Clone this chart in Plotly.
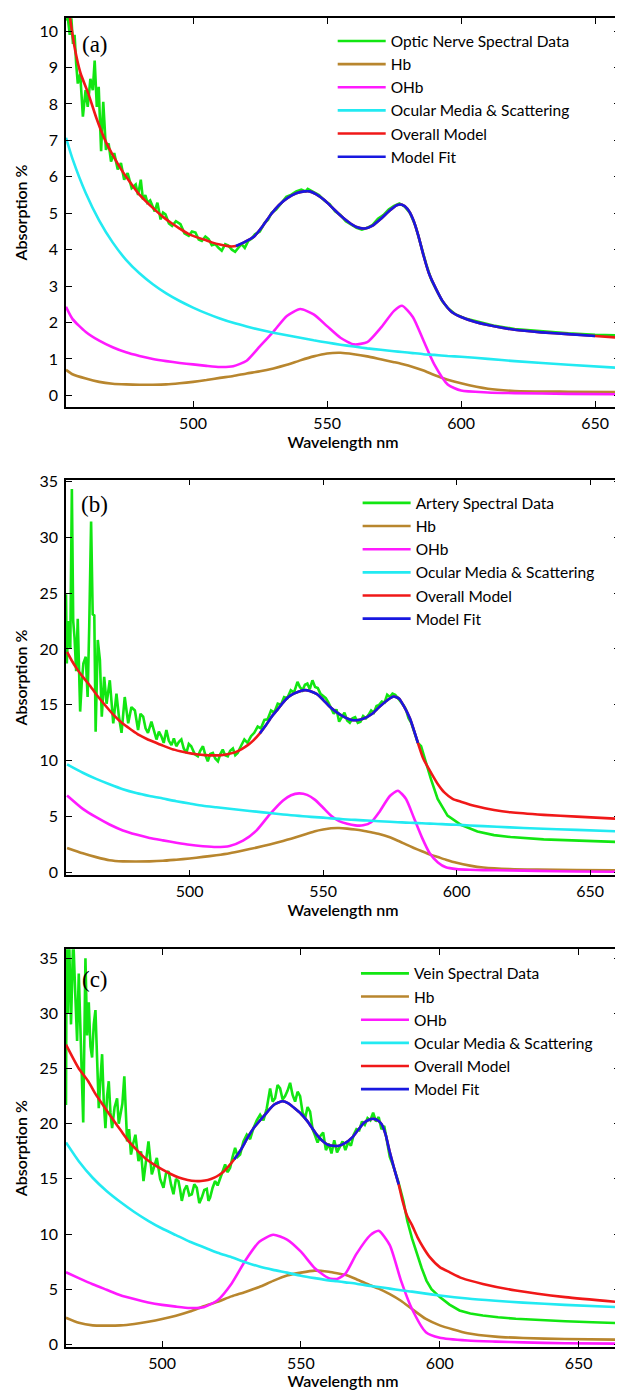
import numpy as np
import plotly.graph_objects as go

# ---------------- Panel (a): Optic nerve ----------------
A_COMP_WL = [452.6, 455, 460, 465, 470, 475, 480, 485, 490, 495, 500, 505, 510, 515, 520, 525, 530,
             535, 540, 545, 550, 555, 560, 565, 570, 575, 578, 582, 586, 590, 595, 600, 610, 620, 640, 660]
A_HB = [0.70, 0.58, 0.46, 0.37, 0.32, 0.30, 0.29, 0.29, 0.30, 0.33, 0.37, 0.42, 0.48, 0.53, 0.60, 0.66, 0.74,
        0.84, 0.96, 1.07, 1.15, 1.17, 1.13, 1.07, 0.99, 0.91, 0.86, 0.78, 0.68, 0.56, 0.43, 0.33, 0.18, 0.12, 0.10, 0.09]
A_OHB = [2.43, 2.10, 1.74, 1.50, 1.32, 1.18, 1.08, 1.00, 0.94, 0.89, 0.85, 0.81, 0.78, 0.80, 0.95, 1.35, 1.75,
         2.18, 2.37, 2.22, 1.90, 1.58, 1.40, 1.46, 1.85, 2.32, 2.46, 2.15, 1.50, 0.85, 0.30, 0.13, 0.08, 0.06, 0.04, 0.03]
A_OCU = [7.07, 6.50, 5.55, 4.80, 4.20, 3.72, 3.35, 3.05, 2.80, 2.59, 2.41, 2.25, 2.11, 1.99, 1.89, 1.80, 1.72,
         1.65, 1.58, 1.51, 1.45, 1.39, 1.34, 1.29, 1.25, 1.21, 1.19, 1.16, 1.13, 1.11, 1.08, 1.06, 1.00, 0.94, 0.84, 0.75]
A_MODEL_WL = [452.6, 454.1, 456, 458, 460.9, 464, 467.1, 470, 473.3, 476.5, 479.5, 482.5, 485.7, 488.8, 491.9,
              495, 498.1, 501, 504.3, 507, 510, 513.6, 516, 519, 522.9, 526, 529.1, 532, 535.3, 538.5, 541.5,
              543.5, 546, 549, 552, 555, 558, 561, 564, 567, 570, 573, 576, 578, 580, 582, 584, 586, 588, 590.6,
              593, 596.5, 600, 605, 610, 620, 630, 640, 650, 660]
A_MODEL = [11.2, 10.36, 9.48, 8.85, 8.29, 7.6, 7.02, 6.6, 6.19, 5.85, 5.55, 5.32, 5.1, 4.9, 4.73,
           4.58, 4.44, 4.35, 4.27, 4.2, 4.14, 4.09, 4.1, 4.2, 4.37, 4.65, 4.97, 5.22, 5.42, 5.55, 5.6,
           5.6, 5.52, 5.36, 5.15, 4.94, 4.76, 4.62, 4.58, 4.66, 4.84, 5.05, 5.22, 5.23, 5.12, 4.85, 4.4, 3.84, 3.35, 2.93,
           2.6, 2.29, 2.15, 2.02, 1.93, 1.8, 1.73, 1.68, 1.63, 1.58]
A_FIT_RANGE = [514, 655]
A_DATA_WL = [452.6, 453.3, 454, 454.6, 455.2, 455.8, 456.4, 457, 457.9, 458.9, 459.9, 460.7, 461.7, 462.6, 463.3,
             464.1, 464.8, 465.7, 466.5, 467.5, 468.5, 469.4, 470.6, 471.9, 473.1, 474.3, 475.6, 477.1, 478.6,
             479.5, 480.5, 481.3, 482.2, 483, 484, 484.8, 485.7, 486.7, 487.9, 488.8, 489.7, 491, 492.2, 493.6,
             495.3, 496.8, 498.4, 499.6, 500.9, 502.1, 503.3, 504.6, 505.8, 507, 508.3, 509.5, 510.7, 512, 513.2,
             514.5, 515.7, 517, 518.1, 519.3, 520.6, 521.8, 523.1, 524.9, 526.8, 528, 529.3, 531, 533, 534.8,
             536.7, 538.5, 540.4, 542, 542.8, 544, 545, 547, 549, 551, 553, 555, 557, 559, 561, 563, 565, 567,
             569, 571, 573, 575, 577, 579, 581, 583, 585, 587, 589, 591, 593, 595, 598, 602, 607, 612, 620, 630,
             640, 650, 660]
A_DATA = [10.3, 10.35, 9.9, 10.35, 9.65, 9.9, 9.1, 8.56, 8.83, 7.65, 8.38, 7.92, 8.69, 8.38, 9.19,
          7.92, 8.47, 6.7, 8.06, 6.74, 6.92, 6.42, 6.65, 6.2, 6.38, 5.92, 6.1, 5.69, 5.79,
          5.5, 5.92, 5.38, 5.5, 5.29, 5.35, 5.2, 5.05, 5.29, 4.83, 5.02, 4.97, 4.72, 4.65, 4.78,
          4.7, 4.45, 4.38, 4.5, 4.47, 4.28, 4.24, 4.36, 4.29, 4.12, 4.15, 4.05, 3.97, 4.15, 4.11,
          4.0, 3.94, 4.06, 4.15, 4.05, 4.24, 4.3, 4.42, 4.5, 4.74, 4.82, 5.01, 5.1, 5.29, 5.45,
          5.51, 5.6, 5.65, 5.6, 5.67, 5.62, 5.6, 5.5, 5.35, 5.25, 5.05, 4.95, 4.78, 4.7, 4.6, 4.55, 4.6, 4.68,
          4.85, 4.95, 5.1, 5.2, 5.27, 5.18, 5.0, 4.65, 4.1, 3.6, 3.15, 2.85, 2.58, 2.4, 2.22, 2.1, 2.0, 1.92, 1.82, 1.75,
          1.7, 1.66, 1.64]

# ---------------- Panel (b): Artery ----------------
B_COMP_WL = [454.1, 460, 465, 470, 475, 480, 485, 490, 495, 500, 505, 510, 515, 520, 525, 530, 535, 538, 541,
             544, 547, 550, 553, 556, 559, 562, 565, 568, 571, 575, 578, 581, 584, 587, 590, 593, 596, 600, 605,
             610, 620, 630, 645, 661]
B_HB = [2.2, 1.72, 1.38, 1.1, 1.0, 0.99, 1.0, 1.05, 1.15, 1.26, 1.4, 1.55, 1.73, 1.97, 2.23, 2.52, 2.83, 3.03, 3.25,
        3.48, 3.7, 3.85, 3.96, 3.98, 3.93, 3.85, 3.74, 3.6, 3.45, 3.15, 2.85, 2.52, 2.2, 1.9, 1.62, 1.39, 1.15, 0.87, 0.62,
        0.45, 0.31, 0.26, 0.22, 0.19]
B_OHB = [6.9, 5.7, 4.95, 4.3, 3.77, 3.4, 3.1, 2.88, 2.67, 2.48, 2.36, 2.29, 2.38, 2.85, 3.75, 5.2, 6.45, 6.92, 7.08,
         6.95, 6.5, 5.8, 5.08, 4.6, 4.36, 4.22, 4.23, 4.5, 5.4, 6.85, 7.32, 6.6, 4.9, 3.15, 1.7, 0.9, 0.47, 0.31, 0.25,
         0.22, 0.19, 0.15, 0.1, 0.07]
B_OCU = [9.68, 8.93, 8.38, 7.9, 7.46, 7.12, 6.85, 6.62, 6.38, 6.18, 5.98, 5.84, 5.7, 5.57, 5.45, 5.32, 5.2, 5.13, 5.07,
         5.01, 4.96, 4.91, 4.85, 4.8, 4.75, 4.71, 4.67, 4.63, 4.59, 4.54, 4.5, 4.47, 4.44, 4.41, 4.38, 4.35, 4.31, 4.27, 4.21,
         4.15, 4.04, 3.94, 3.82, 3.68]
B_MODEL_WL = [454.1, 456, 458, 460, 462.4, 465, 468.6, 471.5, 474.8, 478, 481, 484, 487.2, 490, 493.4, 496.5, 499.5,
              502.5, 505.7, 509, 511.9, 514.5, 516.9, 519.5, 521.9, 524, 526.3, 528.5, 530.6, 533, 535, 537, 539, 541,
              543.3, 545, 547.7, 550, 552.2, 555, 558, 560, 562.5, 565, 568.4, 571, 574.3, 576.4, 578.5, 580.2, 582.5,
              585.5, 587.5, 590.4, 593, 595.4, 598.5, 601.6, 607.8, 614, 620.2, 632.6, 645, 661]
B_MODEL = [19.73, 18.9, 18.15, 17.5, 16.8, 15.95, 14.9, 14.1, 13.35, 12.8, 12.31, 11.95, 11.63, 11.35, 11.04, 10.85, 10.69,
           10.58, 10.5, 10.48, 10.5, 10.6, 10.75, 11.05, 11.42, 11.85, 12.45, 13.15, 13.9, 14.6, 15.2, 15.7, 16.0, 16.2,
           16.32, 16.25, 15.96, 15.45, 14.9, 14.35, 13.9, 13.7, 13.62, 13.75, 14.2, 14.8, 15.46, 15.75, 15.55, 14.9, 13.8,
           11.6, 10.2, 8.94, 7.9, 7.17, 6.6, 6.34, 5.9, 5.6, 5.39, 5.16, 5.0, 4.8]
B_FIT_RANGE = [526.3, 585.5]
B_DATA_WL = [453.7, 454.0, 454.6, 455.3, 455.9, 456.4, 456.9, 457.5, 458.1, 459.0, 459.6, 460.2, 461.1, 461.8, 462.4,
             462.7, 463.1, 463.7, 464.3, 464.8, 465.6, 466.4, 467.1, 468.0, 468.9, 470.1, 471.4, 472.6, 473.5, 474.5,
             475.7, 477.0, 478.2, 479.5, 480.7, 481.6, 482.6, 483.5, 484.4, 485.7, 486.6, 487.6, 488.5, 489.4, 490.3,
             491.3, 492.2, 493.2, 494.1, 495.0, 496.0, 496.9, 497.8, 498.8, 499.7, 500.6, 501.9, 503.1, 504.0, 505.0,
             505.9, 506.8, 507.7, 508.7, 509.6, 510.6, 511.5, 512.4, 513.3, 514.3, 515.2, 516.2, 517.1, 518.0, 519.2,
             520.5, 521.7, 523.0, 524.2, 525.5, 526.7, 528.0, 529.2, 530.5, 531.7, 533.0, 534.2, 535.4, 536.6, 537.9,
             539.1, 540.4, 541.3, 542.3, 543.2, 544.1, 545.0, 546.0, 547.0, 548.0, 549.0, 550.0, 551.0, 552.0, 553.0,
             554.0, 555.0, 556.0, 557.0, 558.0, 559.0, 560.0, 561.0, 562.0, 563.0, 564.0, 565.0, 566.0, 567.0, 568.0,
             569.0, 570.0, 571.0, 572.0, 573.0, 574.0, 575.0, 576.0, 577.0, 578.0, 579.0, 580.0, 581.0, 582.0, 583.0,
             584.0, 585.5, 586.7, 588.5, 590.4, 592.9, 596.6, 601.6, 607.8, 614.0, 620.2, 632.6, 645.0, 661.0]
B_DATA = [24.9, 18.7, 22.5, 20.0, 34.3, 22.5, 21.0, 18.0, 22.7, 14.4, 17.0, 18.7, 19.3, 15.7, 22.0,
          27.9, 31.4, 23.1, 23.0, 12.6, 20.8, 19.0, 13.95, 17.5, 15.1, 17.2, 13.35, 16.0, 14.0, 12.5,
          15.7, 13.35, 14.8, 14.5, 12.75, 14.2, 13.95, 12.9, 12.5, 13.5, 12.8, 11.9, 12.6, 12.2, 11.6,
          12.75, 11.8, 11.4, 12.0, 11.3, 11.7, 11.9, 11.1, 10.7, 11.5, 11.3, 10.6, 10.4, 10.9, 11.3,
          10.5, 9.95, 10.6, 10.7, 10.2, 9.95, 10.6, 11.0, 10.5, 10.4, 10.9, 11.1, 10.5, 10.7, 11.3,
          11.9, 11.6, 12.2, 12.5, 13.06, 12.9, 13.65, 13.7, 14.5, 14.3, 15.1, 15.0, 15.7, 15.6, 16.3,
          16.1, 17.06, 16.6, 16.3, 16.8, 16.9, 16.4, 17.2, 16.6, 16.5, 16.0, 15.8, 15.6, 15.2, 14.7,
          14.2, 14.6, 13.5, 13.9, 14.3, 13.6, 13.4, 13.8, 13.9, 13.4, 13.5, 14.0, 13.8, 14.1, 14.5,
          14.3, 14.9, 15.0, 15.3, 15.2, 15.9, 15.7, 16.0, 15.9, 15.6, 15.4, 15.0, 14.6, 13.8, 13.4,
          12.6, 11.6, 11.3, 9.8, 8.35, 6.58, 5.1, 4.27, 3.68, 3.35, 3.18, 2.97, 2.85, 2.73]

# ---------------- Panel (c): Vein ----------------
C_COMP_WL = [465.4, 470, 475, 480, 485, 490, 495, 500, 505, 510, 515, 520, 525, 530, 535, 540, 545, 550, 555, 560,
             563, 566, 570, 575, 578, 582, 586, 590, 595, 600, 610, 620, 630, 645, 665]
C_HB = [2.41, 1.95, 1.72, 1.7, 1.72, 1.85, 2.05, 2.3, 2.6, 2.97, 3.45, 3.87, 4.35, 4.75, 5.2, 5.75, 6.23, 6.5, 6.68, 6.58,
        6.45, 6.3, 5.9, 5.35, 5.05, 4.55, 3.95, 3.2, 2.3, 1.72, 1.0, 0.7, 0.57, 0.48, 0.42]
C_OHB = [6.53, 6.0, 5.45, 4.95, 4.45, 4.1, 3.8, 3.58, 3.42, 3.3, 3.37, 4.0, 5.5, 7.6, 9.3, 9.93, 9.5, 8.4, 6.9, 6.0,
         5.92, 6.4, 8.2, 9.9, 10.3, 9.0, 5.8, 3.2, 1.1, 0.6, 0.35, 0.25, 0.18, 0.1, 0.06]
C_OCU = [18.3, 16.6, 15.1, 13.9, 12.9, 12.0, 11.2, 10.5, 9.9, 9.3, 8.8, 8.3, 7.9, 7.45, 7.05, 6.75, 6.5, 6.22, 6.0, 5.8,
         5.72, 5.62, 5.5, 5.3, 5.2, 5.05, 4.9, 4.78, 4.6, 4.43, 4.15, 3.95, 3.78, 3.58, 3.37]
C_MODEL_WL = [465.4, 470, 473.4, 476, 479.4, 482, 485.3, 488, 491.3, 494, 497.3, 500, 503.3, 506, 509.2, 512, 514,
              516.5, 518.8, 520.5, 522.4, 524, 526, 528.5, 530.8, 533, 535.6, 538, 540.4, 543.4, 545.5, 547.5, 550,
              552.3, 555.6, 557.5, 559.9, 563.4, 566, 568.4, 570.5, 572.7, 574.5, 576.2, 578, 579.1, 580.5, 581.9,
              583.5, 585.2, 586.5, 588.3, 590, 592, 594, 596.4, 600, 603.6, 608, 615.5, 627.4, 645.2, 664.9]
C_MODEL = [27.16, 25.0, 23.85, 22.7, 21.44, 20.5, 19.33, 18.4, 17.52, 16.85, 16.26, 15.85, 15.42, 15.12, 14.9, 14.8, 14.81,
           14.9, 15.11, 15.35, 15.72, 16.15, 16.77, 17.7, 18.73, 19.6, 20.39, 21.1, 21.74, 22.04, 21.85, 21.44, 20.9,
           20.23, 19.03, 18.5, 18.07, 17.98, 18.25, 18.73, 19.4, 20.08, 20.35, 20.44, 20.25, 19.94, 19.0, 17.52,
           16.0, 14.5, 13.1, 11.6, 10.8, 9.7, 8.8, 7.9, 7.0, 6.53, 6.0, 5.48, 4.88, 4.28, 3.82]
C_FIT_RANGE = [526, 585.2]
C_DATA_WL = [465.4, 465.6, 466.0, 466.5, 467.2, 468.0, 468.7, 469.4, 470.0, 470.8, 471.6, 472.4, 473.0, 473.6, 474.2,
             474.8, 475.4, 476.0, 476.6, 477.2, 477.8, 478.4, 479.0, 479.6, 480.2, 480.8, 481.4, 482.0, 482.9, 483.8,
             484.4, 485.0, 485.7, 486.4, 487.4, 488.1, 488.8, 489.6, 490.4, 491.5, 492.4, 493.3, 494.2, 495.1, 496.3,
             497.2, 498.1, 499.3, 500.5, 501.4, 502.3, 503.2, 504.1, 505.0, 505.9, 506.5, 507.1, 508.0, 508.9, 509.8,
             510.7, 511.6, 512.5, 513.4, 514.3, 515.2, 516.1, 516.7, 517.3, 518.2, 519.1, 520.0, 520.9, 521.8, 522.7,
             523.6, 524.5, 525.4, 526.3, 527.2, 528.1, 529.3, 530.5, 531.7, 532.9, 534.1, 535.3, 536.5, 537.7, 538.9,
             539.8, 540.7, 541.6, 542.5, 543.4, 544.3, 545.2, 546.1, 547.0, 547.9, 548.8, 549.7, 550.6, 551.5, 552.4,
             553.3, 554.2, 555.0, 556.0, 557.0, 558.0, 559.0, 560.0, 561.0, 562.0, 563.0, 564.0, 565.0, 566.0, 567.0,
             568.0, 569.0, 570.0, 571.0, 572.0, 573.0, 574.0, 575.0, 576.0, 577.0, 578.0, 579.0, 580.0, 581.0, 582.0,
             583.5, 585.0, 586.9, 588.3, 590.0, 591.7, 593.5, 595.2, 597.0, 600.0, 603.5, 607.1, 611.0, 615.5, 621.0,
             627.4, 635.0, 645.2, 655.0, 664.9]
C_DATA = [21.7, 36.5, 30.0, 37.0, 29.0, 37.0, 32.0, 27.5, 33.6, 27.0, 20.1, 35.0, 28.0, 31.0, 27.0,
          26.0, 29.0, 30.3, 25.0, 21.4, 24.0, 26.3, 22.0, 19.6, 22.5, 23.85, 21.0, 19.6, 21.5, 22.3,
          20.0, 20.8, 21.8, 24.3, 18.4, 19.5, 17.2, 18.2, 19.0, 16.6, 17.5, 14.8, 16.5, 18.4, 15.4,
          16.2, 16.9, 15.0, 14.2, 15.5, 15.7, 14.5, 13.6, 15.0, 14.8, 14.0, 13.0, 14.0, 14.4, 13.5,
          13.6, 14.5, 14.2, 12.8, 13.3, 14.0, 14.1, 13.0, 13.3, 14.2, 14.8, 14.4, 15.1, 15.6, 16.3,
          15.6, 16.0, 17.0, 17.8, 17.0, 17.2, 18.4, 19.0, 18.6, 19.6, 20.3, 20.8, 20.3, 21.4, 23.2,
          22.0, 22.3, 23.5, 23.2, 22.2, 22.5, 23.0, 23.7, 22.6, 22.0, 22.9, 22.5, 21.0, 20.5, 21.5,
          21.1, 19.5, 19.0, 18.3, 18.9, 19.2, 17.6, 18.2, 17.3, 18.5, 17.4, 17.9, 18.4, 17.6, 18.3,
          18.0, 19.0, 19.5, 19.4, 20.2, 19.9, 20.5, 20.3, 21.0, 20.2, 20.6, 19.5, 19.8, 18.3, 17.0,
          16.0, 14.8, 13.0, 11.2, 9.6, 8.19, 6.9, 5.78, 5.0, 4.28, 3.6, 3.07, 2.8, 2.62, 2.45,
          2.32, 2.2, 2.1, 2.0, 1.92]

# ---------------- shared labels / styles ----------------
DATA_NAMES = ["Optic Nerve Spectral Data", "Artery Spectral Data", "Vein Spectral Data"]
COMP_NAMES = ["Hb", "OHb", "Ocular Media & Scattering", "Overall Model", "Model Fit"]
PANEL_TAGS = ["(a)", "(b)", "(c)"]
X_TICKS = [500, 550, 600, 650]
Y_TICKS = [list(range(0, 11)), list(range(0, 36, 5)), list(range(0, 36, 5))]
X_RANGES = [[452.6, 659.3], [453.7, 661.2], [465.4, 664.9]]
Y_RANGES = [[-0.32, 10.36], [-0.26, 35.15], [-0.24, 35.8]]
DOMAINS = [[0.7073, 1.0], [0.3548, 0.6527], [0.0, 0.2992]]
LEGEND_POS = [(0.4814, 0.9952, 0.0), (0.5264, 0.6476, 0.0), (0.5234, 0.2936, 0.0)]

C_GREEN = "#12e612"
C_BROWN = "#b8862e"
C_MAG = "#ff1aff"
C_CYAN = "#22eaf2"
C_RED = "#f01818"
C_BLUE = "#1818e0"
FONT = "Lato"

panels = [
    (A_COMP_WL, A_HB, A_OHB, A_OCU, A_MODEL_WL, A_MODEL, A_FIT_RANGE, A_DATA_WL, A_DATA),
    (B_COMP_WL, B_HB, B_OHB, B_OCU, B_MODEL_WL, B_MODEL, B_FIT_RANGE, B_DATA_WL, B_DATA),
    (C_COMP_WL, C_HB, C_OHB, C_OCU, C_MODEL_WL, C_MODEL, C_FIT_RANGE, C_DATA_WL, C_DATA),
]

fig = go.Figure()
for i, (cw, hb, ohb, ocu, mw, mv, fr, dw, dv) in enumerate(panels):
    sfx = "" if i == 0 else str(i + 1)
    xa, ya, lg = "x" + sfx, "y" + sfx, "legend" + sfx
    mw_arr, mv_arr = np.array(mw), np.array(mv)
    mask = (mw_arr >= fr[0]) & (mw_arr <= fr[1])
    series = [
        (dw, dv, DATA_NAMES[i], C_GREEN),
        (cw, hb, COMP_NAMES[0], C_BROWN),
        (cw, ohb, COMP_NAMES[1], C_MAG),
        (cw, ocu, COMP_NAMES[2], C_CYAN),
        (mw, mv, COMP_NAMES[3], C_RED),
        (mw_arr[mask], mv_arr[mask], COMP_NAMES[4], C_BLUE),
    ]
    for k, (x, y, name, col) in enumerate(series):
        fig.add_trace(go.Scatter(
            x=list(x), y=list(y), mode="lines", name=name,
            line=dict(color=col, width=2.6, shape="spline" if k > 0 else "linear", smoothing=0.6),
            xaxis=xa, yaxis=ya, legend=lg, legendgroup=f"g{i}_{k}", showlegend=True,
        ))

axis_common = dict(showline=True, linecolor="black", linewidth=1.6, mirror="ticks",
                   ticks="inside", ticklen=6, tickwidth=1.2, tickcolor="black",
                   showgrid=False, zeroline=False,
                   tickfont=dict(family=FONT, size=16, color="black"))

# the page body adds an 8 px offset, so the figure is 8 px smaller than the window
layout = dict(width=615, height=1382, margin=dict(l=58, r=1, t=3, b=43),
              paper_bgcolor="white", plot_bgcolor="white", showlegend=True,
              font=dict(family=FONT, color="black"))
for i in range(3):
    sfx = "" if i == 0 else str(i + 1)
    ysfx = "y" + sfx
    xsfx = "x" + sfx
    layout["xaxis" + sfx] = dict(axis_common, range=X_RANGES[i], tickvals=X_TICKS, anchor=ysfx,
                                 domain=[0, 1], ticklabelstandoff=1,
                                 title=dict(text="Wavelength nm", standoff=2,
                                            font=dict(family=FONT, size=16, color="black", weight=600)))
    layout["yaxis" + sfx] = dict(axis_common, range=Y_RANGES[i], tickvals=Y_TICKS[i], anchor=xsfx,
                                 domain=DOMAINS[i], ticklabelstandoff=3,
                                 title=dict(text="Absorption %", standoff=8,
                                            font=dict(family=FONT, size=16, color="black", weight=600)))
    lx, ly, gap = LEGEND_POS[i]
    layout["legend" + sfx] = dict(x=lx, y=ly, xref="paper", yref="paper", xanchor="left", yanchor="top",
                                  bgcolor="rgba(0,0,0,0)", borderwidth=0, itemwidth=48,
                                  traceorder="grouped", tracegroupgap=gap,
                                  font=dict(family=FONT, size=15.5, color="black"))
fig.update_layout(**layout)

TAG_POS = [(0.052, 0.933), (0.052, 0.937), (0.052, 0.925)]
for i in range(3):
    sfx = "" if i == 0 else str(i + 1)
    fig.add_annotation(text=PANEL_TAGS[i], x=TAG_POS[i][0], y=TAG_POS[i][1],
                       xref=f"x{sfx} domain", yref=f"y{sfx} domain", showarrow=False,
                       xanchor="center", yanchor="middle",
                       font=dict(family="Liberation Serif", size=23, color="black"))

fig.write_html("out.html")
